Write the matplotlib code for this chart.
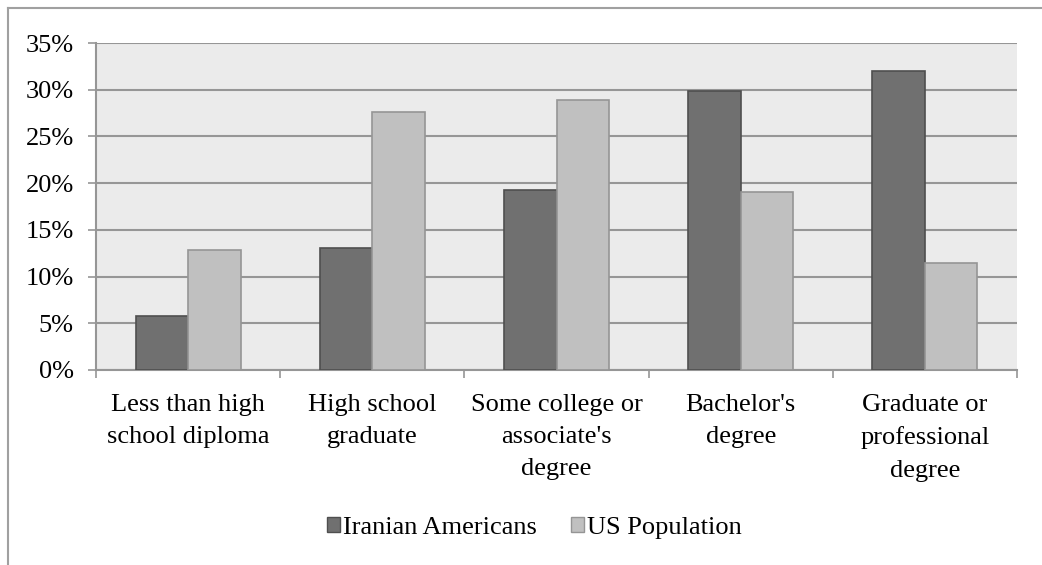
import matplotlib
matplotlib.use("Agg")
import matplotlib.pyplot as plt
from matplotlib.lines import Line2D
from matplotlib.patches import Patch
import numpy as np

categories = ["Less than high\nschool diploma", "High school\ngraduate",
              "Some college or\nassociate's\ndegree", "Bachelor's\ndegree",
              "Graduate or\nprofessional\ndegree"]
iranian = [5.8, 13.1, 19.3, 29.9, 32.0]
us_pop = [12.8, 27.6, 28.9, 19.0, 11.5]
yticks = [0, 5, 10, 15, 20, 25, 30, 35]

plt.rcParams['font.family'] = ['Liberation Serif', 'DejaVu Serif']

fig = plt.figure(figsize=(10.42, 5.65), dpi=100)
ax = fig.add_axes([96/1042, 1-370/565, (1017-96)/1042, (370-43)/565])
ax.set_facecolor('#EBEBEB')

x = np.arange(len(categories))
w = 0.285
ax.bar(x - w/2, iranian, w, color='#707070', edgecolor='#4F4F4F', linewidth=1.2, zorder=3)
ax.bar(x + w/2, us_pop, w, color='#C0C0C0', edgecolor='#959595', linewidth=1.2, zorder=3)

ax.set_xlim(-0.5, len(categories) - 0.5)
ax.set_ylim(0, 35)
ax.set_yticks(yticks)
ax.set_yticklabels([str(v) + '%' for v in yticks], fontsize=19)
ax.yaxis.grid(True, color='#969696', linewidth=1.5, zorder=0)
ax.set_axisbelow(True)

ax.set_xticks(x)
ax.set_xticklabels(categories, fontsize=19, linespacing=1.6)
ax.set_xticks(np.arange(-0.5, len(categories)), minor=True)
ax.tick_params(axis='x', which='major', length=0, pad=17)
ax.tick_params(axis='x', which='minor', length=6, width=1.2, color='#969696')
ax.tick_params(axis='y', length=6, width=1.2, color='#969696', pad=10)

for s in ['top', 'right']:
    ax.spines[s].set_visible(False)
for s in ['left', 'bottom']:
    ax.spines[s].set_color('#969696')
    ax.spines[s].set_linewidth(1.5)

handles = [Patch(facecolor='#707070', edgecolor='#4F4F4F'),
           Patch(facecolor='#C0C0C0', edgecolor='#959595')]
fig.legend(handles, ['Iranian Americans', 'US Population'], loc='center',
           bbox_to_anchor=(534/1042, 1-528/565), ncol=2, frameon=False,
           fontsize=19, handlelength=0.5, handleheight=0.5,
           handletextpad=0.1, columnspacing=1.3)

# outer chart frame (top and left visible)
fig.add_artist(Line2D([8/1042, 1], [1-8/565, 1-8/565], color='#A0A0A0', linewidth=1.5))
fig.add_artist(Line2D([8/1042, 8/1042], [0, 1-8/565], color='#A0A0A0', linewidth=1.5))

fig.savefig('out.png', dpi=100)
